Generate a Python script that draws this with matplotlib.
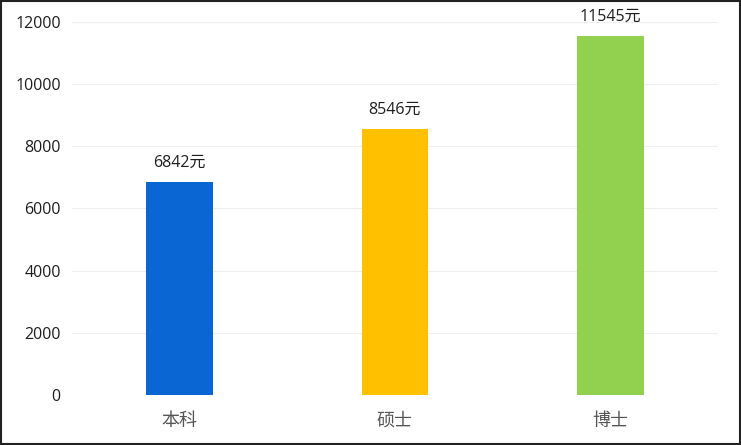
import matplotlib
matplotlib.use("Agg")
import matplotlib.pyplot as plt
from matplotlib.patches import Rectangle

plt.rcParams['font.family'] = ['Open Sans', 'Noto Sans CJK SC', 'DejaVu Sans']

categories = ['本科', '硕士', '博士']
values = [6842, 8546, 11545]
labels = ['6842元', '8546元', '11545元']
colors = ['#0966D3', '#FFC000', '#92D050']
yticks = [0, 2000, 4000, 6000, 8000, 10000, 12000]

fig = plt.figure(figsize=(7.41, 4.45), dpi=100)
ax = fig.add_axes([0.097, 0.112, 0.872, 0.839])
x = range(len(categories))
ax.bar(x, values, width=0.31, color=colors, zorder=3)
for xi, v, lab in zip(x, values, labels):
    ax.annotate(lab, (xi, v), xytext=(0, 8), textcoords='offset points',
                ha='center', va='bottom', fontsize=11.5, color='#1E1E1E')
ax.set_xlim(-0.5, 2.5)
ax.set_ylim(0, 12000)
ax.set_yticks(yticks)
ax.set_yticklabels([str(t) for t in yticks], fontsize=11.5, color='#1E1E1E')
ax.set_xticks(list(x))
ax.set_xticklabels(categories, fontsize=13, color='#555555',
                   family=['Noto Sans CJK SC', 'DejaVu Sans'])
ax.grid(axis='y', color='#EEEEEE', linewidth=0.8, zorder=0)
for s in ax.spines.values():
    s.set_visible(False)
ax.tick_params(axis='y', length=0, pad=8)
ax.tick_params(axis='x', length=0, pad=12)

fig.patches.append(Rectangle((0.002, 0.003), 0.996, 0.994, transform=fig.transFigure,
                             fill=False, edgecolor='#222222', linewidth=1.5))
fig.savefig('out.png', dpi=100)
